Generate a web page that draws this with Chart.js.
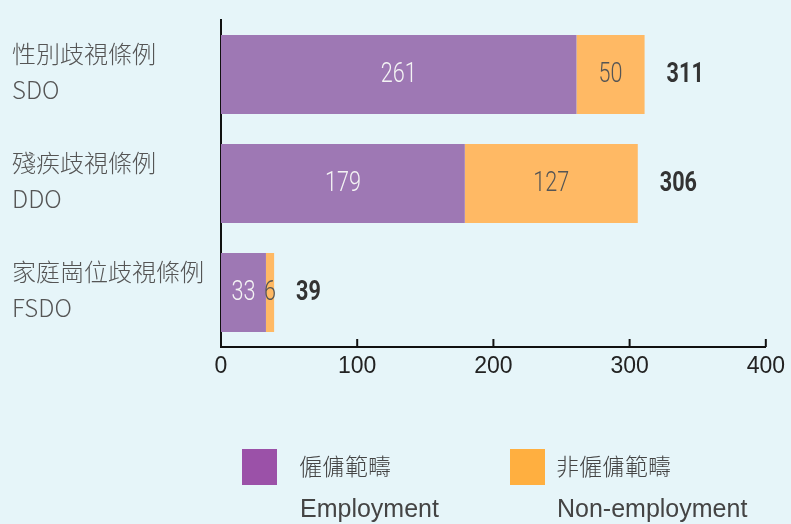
<!DOCTYPE html>
<html>
<head>
<meta charset="utf-8">
<script src="https://cdn.jsdelivr.net/npm/chart.js@4/dist/chart.umd.min.js"></script>
<style>
  body { margin: 0; background: #e6f5f9; }
  #wrap { position: relative; width: 791px; height: 524px; }
  .leg { position: absolute; top: 449px; font-family: "Liberation Sans", Arial, sans-serif; font-size: 25px; color: #444; }
  .leg .sw { position: absolute; left: 0; top: 0; width: 35px; height: 36px; }
  .leg .t1 { position: absolute; top: 0; white-space: nowrap; font-family: "Noto Sans CJK TC", sans-serif; font-weight: 300; font-size: 23px; line-height: 32px; }
  .leg .t2 { position: absolute; top: 45px; white-space: nowrap; line-height: 28px; }
</style>
</head>
<body>
<div id="wrap">
  <canvas id="grafica" width="791" height="524"></canvas>
  <div class="leg" style="left:242px"><div class="sw" style="background:#9b51a8"></div><div class="t1" style="left:57px">僱傭範疇</div><div class="t2" style="left:58px">Employment</div></div>
  <div class="leg" style="left:510px"><div class="sw" style="background:#ffaf40"></div><div class="t1" style="left:46px">非僱傭範疇</div><div class="t2" style="left:47px">Non-employment</div></div>
</div>
<script>
const categorias = [['性別歧視條例', 'SDO'], ['殘疾歧視條例', 'DDO'], ['家庭崗位歧視條例', 'FSDO']];
const empleo = [261, 179, 33];
const noEmpleo = [50, 127, 6];
const ticksX = [0, 100, 200, 300, 400];

// texto estrecho, como en la imagen original
function textoEstrecho(ctx, txt, x, y, align) {
  const k = 0.8;
  const w = ctx.measureText(txt).width * k;
  let x0 = x;
  if (align === 'center') x0 = x - w / 2;
  ctx.save();
  ctx.translate(x0, y);
  ctx.scale(k, 1);
  ctx.textAlign = 'left';
  ctx.fillText(txt, 0, 0);
  ctx.restore();
}

const etiquetas = {
  id: 'etiquetas',
  afterDatasetsDraw(chart) {
    const ctx = chart.ctx;
    ctx.save();
    ctx.textBaseline = 'middle';
    chart.data.datasets.forEach((ds, i) => {
      chart.getDatasetMeta(i).data.forEach((bar, j) => {
        ctx.font = '300 27px "Roboto", sans-serif';
        ctx.fillStyle = i === 0 ? '#f4f4f4' : '#555';
        textoEstrecho(ctx, String(ds.data[j]), (bar.x + bar.base) / 2, bar.y + 1, 'center');
      });
    });
    chart.getDatasetMeta(1).data.forEach((bar, j) => {
      ctx.font = 'bold 27px "Roboto", sans-serif';
      ctx.fillStyle = '#333';
      textoEstrecho(ctx, String(empleo[j] + noEmpleo[j]), bar.x + 22, bar.y + 1, 'left');
    });
    // etiquetas de categorías
    const sy = chart.scales.y;
    ctx.font = '300 24px "Noto Sans CJK TC", sans-serif';
    ctx.fillStyle = '#555';
    ctx.textAlign = 'left';
    categorias.forEach((c, j) => {
      const py = sy.getPixelForValue(j);
      ctx.fillText(c[0], 12, py - 21);
      ctx.fillText(c[1], 12, py + 15);
    });
    // marcas del eje x hacia arriba
    const sx = chart.scales.x;
    ctx.strokeStyle = '#111';
    ctx.lineWidth = 2;
    ticksX.forEach(t => {
      const px = sx.getPixelForValue(t);
      ctx.beginPath();
      ctx.moveTo(px, sx.top);
      ctx.lineTo(px, sx.top - 8);
      ctx.stroke();
    });
    ctx.restore();
  }
};

new Chart(document.getElementById('grafica'), {
  type: 'bar',
  data: {
    labels: categorias,
    datasets: [
      { label: '僱傭範疇 Employment', data: empleo, backgroundColor: '#9e78b4', barPercentage: 0.8, categoryPercentage: 0.905 },
      { label: '非僱傭範疇 Non-employment', data: noEmpleo, backgroundColor: '#ffb964', barPercentage: 0.8, categoryPercentage: 0.905 }
    ]
  },
  plugins: [etiquetas],
  options: {
    indexAxis: 'y',
    responsive: false,
    animation: false,
    layout: { padding: { left: 0, top: 20, right: 24, bottom: 0 } },
    plugins: { legend: { display: false }, tooltip: { enabled: false } },
    scales: {
      x: {
        stacked: true,
        min: 0,
        max: 400,
        afterBuildTicks: s => { s.ticks = ticksX.map(v => ({ value: v })); },
        afterFit: s => { s.height = 177; },
        grid: { display: false, drawTicks: false },
        border: { display: true, color: '#111', width: 2 },
        ticks: { color: '#222', padding: 6, font: { family: '"Liberation Sans", Arial, sans-serif', size: 23 } }
      },
      y: {
        stacked: true,
        afterFit: s => { s.width = 221; },
        grid: { display: false, drawTicks: false },
        border: { display: true, color: '#111', width: 2 },
        ticks: { display: false }
      }
    }
  }
});
</script>
</body>
</html>
